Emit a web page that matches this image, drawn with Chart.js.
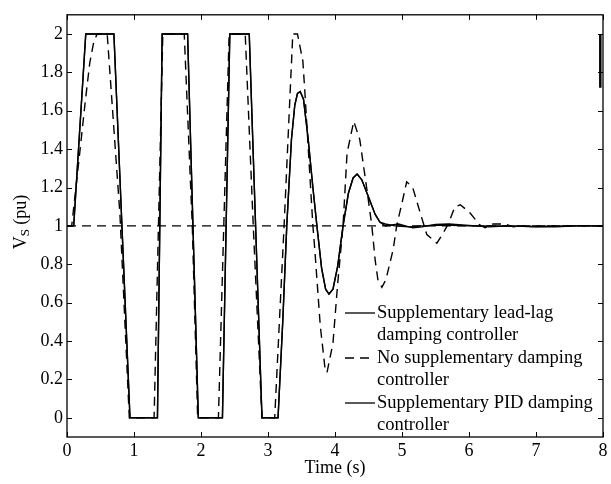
<!DOCTYPE html>
<html>
<head>
<meta charset="utf-8">
<script src="https://cdn.jsdelivr.net/npm/chart.js@4.4.0/dist/chart.umd.min.js"></script>
<style>
    body { margin: 0; background: #fff; }
    canvas { display: block; }
</style>
</head>
<body>
<canvas id="vs" width="611" height="484"></canvas>
<script>
// time (s) and Vs (pu)
const leadLagT = [0, 0.1, 0.28, 0.70, 0.94, 1.35, 1.42, 1.80, 1.96, 2.32, 2.43, 2.72, 2.91, 3.15, 3.22, 3.28, 3.35, 3.40, 3.44, 3.48, 3.53, 3.60, 3.67, 3.73, 3.80, 3.86, 3.91, 3.97, 4.04, 4.12, 4.20, 4.27, 4.33, 4.40, 4.50, 4.60, 4.67, 4.75, 4.85, 4.95, 5.05, 5.16, 5.30, 5.50, 5.70, 5.90, 6.10, 6.30, 6.60, 7.00, 7.30, 7.60, 8.00];
const leadLagV = [1, 1, 2, 2, 0, 0, 2, 2, 0, 0, 2, 2, 0, 0, 0.5, 1.0, 1.45, 1.63, 1.69, 1.70, 1.66, 1.45, 1.20, 1.0, 0.78, 0.67, 0.645, 0.67, 0.79, 1.0, 1.17, 1.25, 1.27, 1.24, 1.15, 1.06, 1.02, 1.0, 1.005, 1.01, 1.0, 0.99, 0.995, 1.008, 1.01, 1.005, 1.0, 0.995, 1.0, 0.995, 0.995, 1.0, 1.0];

const pidT = [0, 0.1, 0.28, 0.70, 0.94, 1.35, 1.42, 1.80, 1.96, 2.32, 2.43, 2.72, 2.91, 3.15, 3.22, 3.28, 3.35, 3.40, 3.44, 3.48, 3.53, 3.60, 3.67, 3.73, 3.80, 3.86, 3.91, 3.97, 4.04, 4.12, 4.20, 4.27, 4.33, 4.40, 4.50, 4.60, 4.67, 4.75, 4.90, 5.10, 5.30, 5.60, 6.00, 6.40, 7.00, 7.50, 8.00];
const pidV = [1, 1, 2, 2, 0, 0, 2, 2, 0, 0, 2, 2, 0, 0, 0.5, 1.0, 1.45, 1.63, 1.69, 1.70, 1.66, 1.45, 1.20, 1.0, 0.78, 0.67, 0.645, 0.67, 0.79, 1.0, 1.17, 1.25, 1.27, 1.24, 1.15, 1.06, 1.02, 1.01, 1.0, 0.995, 1.0, 1.005, 1.0, 1.0, 0.997, 1.0, 1.0];

const noDampT = [0, 0.07, 0.19, 0.27, 0.34, 0.40, 0.45, 0.60, 0.79, 0.93, 1.30, 1.43, 1.75, 1.87, 1.95, 2.26, 2.34, 2.42, 2.66, 2.78, 2.91, 3.10, 3.24, 3.37, 3.44, 3.52, 3.55, 3.67, 3.70, 3.78, 3.85, 3.88, 3.97, 4.04, 4.12, 4.18, 4.28, 4.37, 4.48, 4.55, 4.60, 4.64, 4.70, 4.76, 4.87, 4.92, 5.00, 5.07, 5.16, 5.27, 5.37, 5.52, 5.61, 5.69, 5.79, 5.87, 6.01, 6.16, 6.24, 6.36, 6.54, 6.66, 6.80, 8.00];
const noDampV = [1, 1, 1.38, 1.64, 1.85, 1.96, 2, 2, 1.06, 0, 0, 2, 2, 1, 0, 0, 1, 2, 2, 1, 0, 0, 1, 2, 2, 1.86, 1.70, 1.0, 0.87, 0.48, 0.26, 0.235, 0.39, 0.70, 1.0, 1.38, 1.545, 1.45, 1.18, 1.0, 0.82, 0.72, 0.68, 0.72, 0.88, 1.0, 1.12, 1.23, 1.20, 1.07, 0.955, 0.91, 0.96, 1.01, 1.10, 1.11, 1.07, 1.005, 0.99, 1.01, 1.01, 0.995, 1.0, 1.0];

const refT = [0, 8];
const refV = [1, 1];

const edgeT = [7.96, 7.96];
const edgeV = [2.0, 1.72];

const xTicks = [0, 1, 2, 3, 4, 5, 6, 7, 8];
const yTicks = [0, 0.2, 0.4, 0.6, 0.8, 1, 1.2, 1.4, 1.6, 1.8, 2];

const legendItems = [
    { lines: ['Supplementary lead-lag', 'damping controller'], dash: [] },
    { lines: ['No supplementary damping', 'controller'], dash: [9, 6] },
    { lines: ['Supplementary PID damping', 'controller'], dash: [] }
];

const pts = (t, v) => t.map((x, i) => ({ x: x, y: v[i] }));
const FONT = '"Liberation Serif", "Times New Roman", serif';

const matlabFrame = {
    id: 'matlabFrame',
    afterDraw(chart) {
        const c = chart.ctx;
        const a = chart.chartArea;
        const xs = chart.scales.x, ys = chart.scales.y;
        c.save();
        c.strokeStyle = '#000';
        c.lineWidth = 1.3;
        c.strokeRect(a.left, a.top, a.right - a.left, a.bottom - a.top);
        c.lineWidth = 1;
        c.beginPath();
        xTicks.forEach(v => {
            const px = Math.round(xs.getPixelForValue(v)) + 0.5;
            c.moveTo(px, a.bottom); c.lineTo(px, a.bottom - 5);
            c.moveTo(px, a.top); c.lineTo(px, a.top + 5);
        });
        yTicks.forEach(v => {
            const py = Math.round(ys.getPixelForValue(v)) + 0.5;
            c.moveTo(a.left, py); c.lineTo(a.left + 5, py);
            c.moveTo(a.right, py); c.lineTo(a.right - 5, py);
        });
        c.stroke();

        // legend, inside the axes at lower right
        c.font = '18.5px ' + FONT;
        c.fillStyle = '#000';
        c.textBaseline = 'middle';
        c.textAlign = 'left';
        let y = 313;
        legendItems.forEach(item => {
            c.beginPath();
            c.lineWidth = 1.3;
            c.setLineDash(item.dash);
            c.moveTo(345, y); c.lineTo(375, y);
            c.stroke();
            c.setLineDash([]);
            item.lines.forEach((t, k) => c.fillText(t, 377, y + k * 22.5));
            y += 45;
        });

        // y axis title with subscript
        c.translate(21, 222);
        c.rotate(-Math.PI / 2);
        c.textAlign = 'left';
        c.font = '18px ' + FONT;
        const wV = c.measureText('V').width;
        c.font = '13px ' + FONT;
        const wS = c.measureText('S').width;
        c.font = '18px ' + FONT;
        const wP = c.measureText(' (pu)').width;
        let x0 = -(wV + wS + wP) / 2;
        c.fillText('V', x0, 0);
        c.font = '13px ' + FONT;
        c.fillText('S', x0 + wV, 5);
        c.font = '18px ' + FONT;
        c.fillText(' (pu)', x0 + wV + wS, 0);
        c.restore();
    }
};

new Chart(document.getElementById('vs'), {
    type: 'line',
    data: {
        datasets: [{
                label: 'Supplementary lead-lag damping controller',
                data: pts(leadLagT, leadLagV),
                borderColor: '#000',
                borderWidth: 1.4,
                pointRadius: 0,
                tension: 0
            },
            {
                label: 'No supplementary damping controller',
                data: pts(noDampT, noDampV),
                borderColor: '#000',
                borderWidth: 1.4,
                borderDash: [9, 6],
                pointRadius: 0,
                tension: 0
            },
            {
                label: 'Supplementary PID damping controller',
                data: pts(pidT, pidV),
                borderColor: '#000',
                borderWidth: 1.4,
                pointRadius: 0,
                tension: 0
            },
            {
                label: 'ref',
                data: pts(refT, refV),
                borderColor: '#000',
                borderWidth: 1.3,
                borderDash: [9, 6],
                pointRadius: 0
            },
            {
                label: 'edge',
                data: pts(edgeT, edgeV),
                borderColor: '#000',
                borderWidth: 2.5,
                pointRadius: 0
            }
        ]
    },
    options: {
        responsive: false,
        animation: false,
        layout: { padding: { left: 0, top: 8, right: 8, bottom: 0 } },
        plugins: {
            legend: { display: false },
            tooltip: { enabled: false }
        },
        scales: {
            x: {
                type: 'linear',
                min: 0,
                max: 8,
                afterBuildTicks: s => { s.ticks = xTicks.map(v => ({ value: v })); },
                afterFit: s => { s.height = 47; },
                grid: { display: false, drawTicks: false },
                border: { display: false },
                ticks: {
                    color: '#000',
                    padding: 3,
                    font: { family: FONT, size: 18 },
                    callback: v => String(v)
                },
                title: {
                    display: true,
                    text: 'Time (s)',
                    color: '#000',
                    font: { family: FONT, size: 18 },
                    padding: { top: 0, bottom: 5 }
                }
            },
            y: {
                min: -0.1,
                max: 2.1,
                afterBuildTicks: s => { s.ticks = yTicks.map(v => ({ value: v })); },
                afterFit: s => { s.width = 67; },
                grid: { display: false, drawTicks: false },
                border: { display: false },
                ticks: {
                    color: '#000',
                    padding: 4,
                    font: { family: FONT, size: 18 },
                    callback: v => String(Number(v.toFixed(1)))
                }
            }
        }
    },
    plugins: [matlabFrame]
});
</script>
</body>
</html>
